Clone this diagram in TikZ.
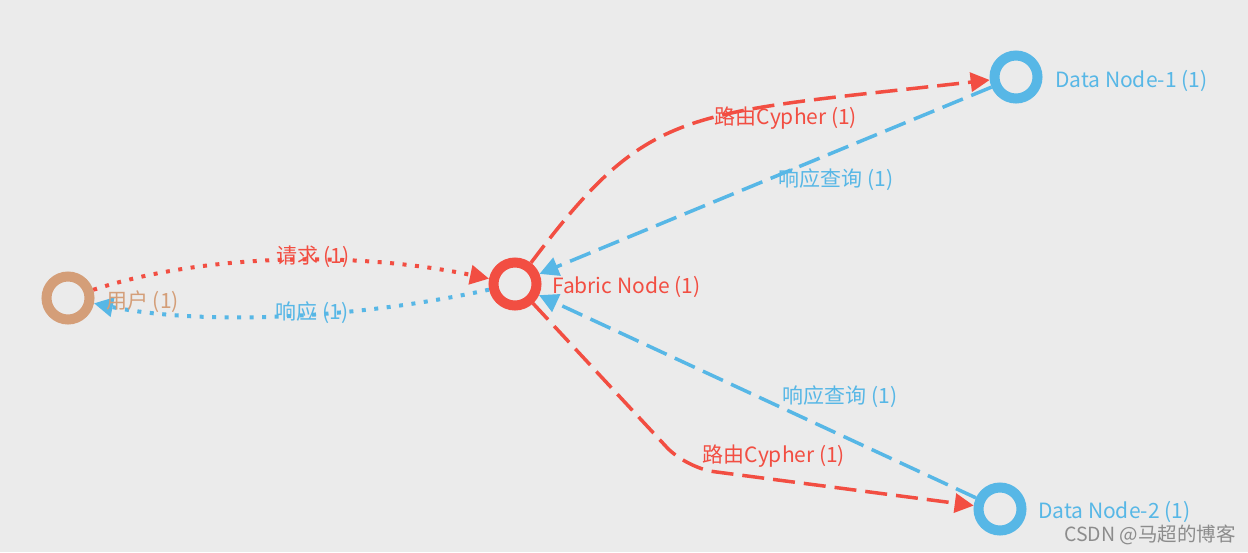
\documentclass[tikz,border=0pt]{standalone}
\usepackage{fontspec}
\setmainfont{Noto Sans CJK SC}
\usetikzlibrary{arrows.meta}
\definecolor{bgc}{HTML}{EBEBEB}
\definecolor{redc}{HTML}{F24E42}
\definecolor{bluec}{HTML}{57B7E6}
\definecolor{tanc}{HTML}{D49E78}
\definecolor{wmc}{HTML}{8C8C8C}
\tikzset{
  ring/.style={circle, draw=#1, line width=10pt, minimum size=43pt, inner sep=0pt},
  lbl/.style={text=#1, font=\fontsize{21}{24}\selectfont, inner sep=0pt},
  tip/.style={-{Triangle[length=19pt,width=19pt]}},
  reddot/.style={tip, draw=redc, line width=4pt, dash pattern=on 4pt off 8.5pt},
  bluedot/.style={tip, draw=bluec, line width=4pt, dash pattern=on 4pt off 8.5pt},
  reddash/.style={tip, draw=redc, line width=3.5pt, dash pattern=on 22pt off 9pt},
  bluedash/.style={tip, draw=bluec, line width=3.5pt, dash pattern=on 22pt off 9pt},
}
\begin{document}
\begin{tikzpicture}[x=1pt,y=-1pt]
\fill[bgc] (0,0) rectangle (1248,552);
\useasboundingbox (0,0) rectangle (1248,552);
% nodes
\node[ring=tanc] (user) at (68,298) {};
\node[ring=redc] (fab) at (515,284) {};
\node[ring=bluec] (dn1) at (1016,77) {};
\node[ring=bluec] (dn2) at (1000,509) {};
% edges
\draw[reddot] (user) .. controls (200,255) and (350,250) .. (fab);
\draw[bluedot] (fab) .. controls (350,320) and (200,325) .. (user);
\draw[reddash] (fab) .. controls (650,105) and (680,115) .. (dn1);
\draw[bluedash] (dn1) -- (fab);
\draw[reddash, rounded corners=28pt] (fab) -- (686,468) -- (dn2);
\draw[bluedash] (dn2) -- (fab);
% labels
\node[lbl=tanc, anchor=west] (luser) at (106,302) {用户 (1)};
\node[lbl=redc, anchor=west] (lfab) at (552,287) {Fabric Node (1)};
\node[lbl=bluec, anchor=west] (ldn1) at (1055,81) {Data Node-1 (1)};
\node[lbl=bluec, anchor=west] (ldn2) at (1038,512) {Data Node-2 (1)};
\node[lbl=redc] (lreq) at (313,257) {请求 (1)};
\node[lbl=bluec] (lresp) at (312,313) {响应 (1)};
\node[lbl=redc] (lr1) at (786,118) {路由Cypher (1)};
\node[lbl=bluec] (lq1) at (836,180) {响应查询 (1)};
\node[lbl=bluec] (lq2) at (840,397) {响应查询 (1)};
\node[lbl=redc] (lr2) at (774,456) {路由Cypher (1)};
\node[text=wmc, font=\fontsize{19.5}{22}\selectfont, inner sep=0pt, anchor=east] (wm) at (1236,535) {CSDN @马超的博客};
\end{tikzpicture}
\end{document}
